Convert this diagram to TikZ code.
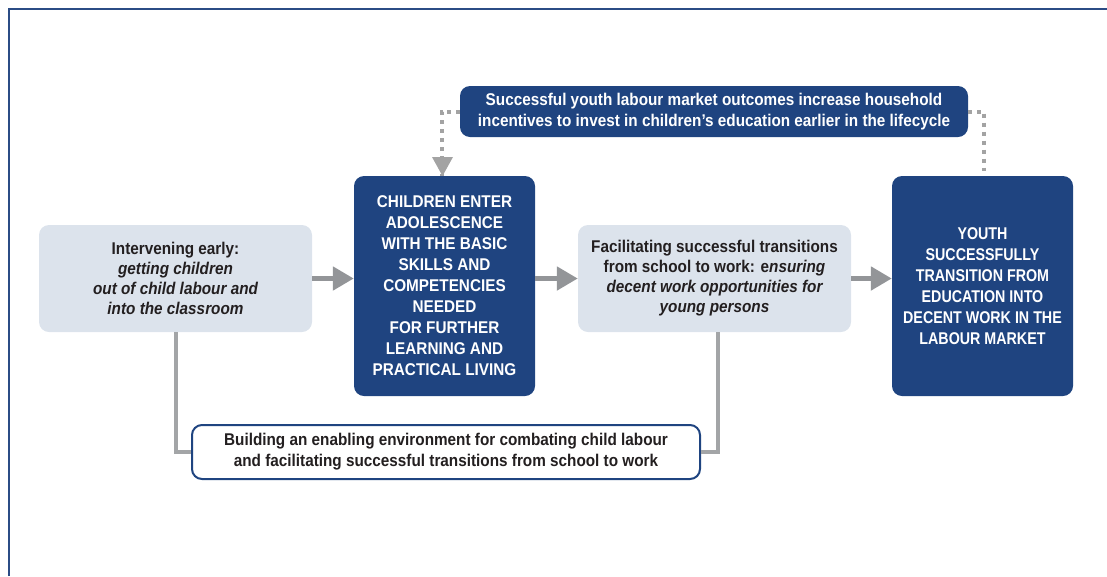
\documentclass[tikz,border=0pt]{standalone}
\usepackage{fontspec}
\setmainfont{Liberation Sans}[FakeStretch=0.9]
\newfontfamily\narrowfont{Liberation Sans}[FakeStretch=0.84]
\usetikzlibrary{arrows.meta,positioning,calc}
\definecolor{dblue}{HTML}{1F4480}
\definecolor{lgray}{HTML}{DCE3EC}
\definecolor{agray}{HTML}{939598}
\definecolor{dgray}{HTML}{A3A3A3}
\definecolor{txt}{HTML}{231F20}
\definecolor{frame}{HTML}{2B4C85}
\tikzset{
  base/.style={rounded corners=10pt, align=center, inner sep=0pt,
    font=\fontsize{17}{21}\selectfont\bfseries},
  lightbox/.style={base, fill=lgray, text=txt, minimum width=273pt, minimum height=107pt,
    font=\fontsize{17}{20}\selectfont\bfseries},
  bluebox/.style={base, fill=dblue, text=white, minimum width=181pt, minimum height=220pt},
  widebox/.style={base, fill=dblue, text=white, minimum width=508pt, minimum height=51pt},
  whitebox/.style={base, fill=white, draw=dblue, line width=2pt, text=txt, minimum width=508pt, minimum height=54pt},
  arr/.style={draw=agray, line width=5pt, -{Triangle[length=21pt,width=23pt]}},
  link/.style={draw=agray!85, line width=4pt},
  dots/.style={draw=dgray, line width=4pt, dash pattern=on 4pt off 5pt},
}
\begin{document}
\begin{tikzpicture}[x=1pt,y=-1pt]
\useasboundingbox (0,0) rectangle (1107,576);
% frame
\draw[frame, line width=2.5pt] (9,576) -- (9,9) -- (1107,9);
% nodes
\node[lightbox] (b1) at (175.5,278.5) {Intervening early:\\\itshape getting children\\\itshape out of child labour and\\\itshape into the classroom};
\node[bluebox] (b2) at (444.5,286) {CHILDREN ENTER\\ADOLESCENCE\\WITH THE BASIC\\SKILLS AND\\COMPETENCIES\\NEEDED\\FOR FURTHER\\LEARNING AND\\PRACTICAL LIVING};
\node[lightbox] (b3) at (714.5,278.5) {Facilitating successful transitions\\from school to work: e\textit{nsuring}\\\itshape decent work opportunities for\\\itshape young persons};
\node[bluebox, font=\fontsize{17}{21}\selectfont\narrowfont\bfseries] (b4) at (982.5,286) {YOUTH\\SUCCESSFULLY\\TRANSITION FROM\\EDUCATION INTO\\DECENT WORK IN THE\\LABOUR MARKET};
\node[widebox] (top) at (714,111.5) {Successful youth labour market outcomes increase household\\incentives to invest in children’s education earlier in the lifecycle};
\node[whitebox] (bot) at (446,452) {Building an enabling environment for combating child labour\\and facilitating successful transitions from school to work};
% main arrows
\draw[arr] (b1.east) -- (b1.east -| b2.west);
\draw[arr] (b1.east -| b2.east) -- (b1.east -| b3.west);
\draw[arr] (b3.east) -- (b3.east -| b4.west);
% links to bottom box
\draw[link] (b1.south) |- (bot.west);
\draw[link] (b3.south) ++(3,0) coordinate (r3) (r3) |- (bot.east);
% dotted feedback
\coordinate (dl) at (441.5,0);
\draw[dots] (top.west) -| (dl |- b2.north);
\draw[draw=none, fill=dgray] (432,157) -- (453,157) -- (442.5,176) -- cycle;
\coordinate (dr) at (984,171);
\draw[dots] (top.east) -| (dr);
\end{tikzpicture}
\end{document}
